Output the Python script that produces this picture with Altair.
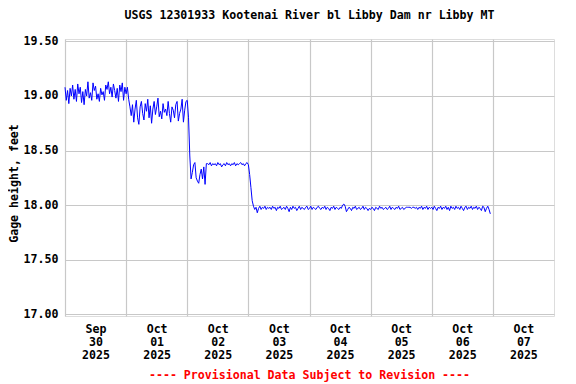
import altair as alt
import pandas as pd

TITLE = "USGS 12301933 Kootenai River bl Libby Dam nr Libby MT"
Y_TITLE = "Gage height, feet"
FOOTER = "---- Provisional Data Subject to Revision ----"

# gage height, 30-minute readings, each list starts at 00:00 UTC of its day
day_starts = ["2025-09-30", "2025-10-01", "2025-10-02", "2025-10-03",
              "2025-10-04", "2025-10-05", "2025-10-06"]

sep30 = [19.08, 18.96, 19.05, 18.93, 19.07, 19.00, 19.10, 18.97, 19.06, 18.95, 19.11, 19.02,
         19.08, 18.94, 19.04, 18.92, 19.06, 19.00, 19.13, 18.98, 19.03, 18.96, 19.12, 19.05,
         19.09, 18.97, 19.02, 18.95, 19.07, 19.01, 19.04, 18.96, 19.10, 19.06, 19.13, 19.02,
         19.08, 18.99, 19.11, 19.05, 18.98, 19.07, 18.95, 19.10, 19.04, 19.12, 18.96, 19.08]
oct01 = [19.02, 19.08, 18.97, 18.90, 18.82, 18.92, 18.76, 18.88, 18.96, 18.80, 18.74, 18.90,
         18.95, 18.84, 18.78, 18.93, 18.86, 18.97, 18.80, 18.91, 18.75, 18.88, 18.95, 18.83,
         18.90, 18.98, 18.81, 18.86, 18.79, 18.93, 18.85, 18.88, 18.82, 18.95, 18.84, 18.76,
         18.90, 18.87, 18.80, 18.92, 18.95, 18.77, 18.84, 18.88, 18.97, 18.76, 18.87, 18.95]
oct02 = [18.96, 18.80, 18.45, 18.24, 18.30, 18.37, 18.39, 18.25, 18.22, 18.20, 18.28, 18.33,
         18.24, 18.35, 18.19, 18.38, 18.38, 18.37, 18.39, 18.36, 18.38, 18.37, 18.38, 18.36,
         18.39, 18.37, 18.38, 18.35, 18.37, 18.38, 18.36, 18.39, 18.37, 18.38, 18.36, 18.38,
         18.37, 18.39, 18.36, 18.38, 18.37, 18.38, 18.39, 18.37, 18.38, 18.36, 18.38, 18.39]
oct03 = [18.37, 18.28, 18.16, 18.04, 17.99, 17.96, 17.98, 17.93, 17.97, 17.99, 17.96, 17.98,
         17.97, 17.99, 17.96, 17.98, 17.97, 17.98, 17.96, 17.99, 17.97, 17.98, 17.95, 17.98,
         17.97, 17.99, 17.96, 17.97, 17.98, 17.96, 17.99, 17.97, 17.94, 17.98, 17.96, 17.99,
         17.97, 17.98, 17.95, 17.97, 17.99, 17.96, 17.98, 17.97, 17.96, 17.98, 17.99, 17.96]
oct04 = [17.97, 17.99, 17.96, 17.98, 17.97, 17.96, 17.98, 17.99, 17.97, 17.96, 17.98, 17.97,
         17.99, 17.96, 17.98, 17.97, 17.95, 17.98, 17.97, 17.99, 17.96, 17.98, 17.97, 17.96,
         17.98, 17.97, 18.00, 18.01, 17.99, 17.94, 17.96, 17.98, 17.97, 17.95, 17.98, 17.97,
         17.99, 17.96, 17.97, 17.98, 17.96, 17.97, 17.99, 17.96, 17.98, 17.97, 17.95, 17.97]
oct05 = [17.96, 17.98, 17.97, 17.95, 17.98, 17.97, 17.96, 17.99, 17.97, 17.98, 17.96, 17.97,
         17.98, 17.96, 17.97, 17.99, 17.96, 17.98, 17.97, 17.96, 17.98, 17.97, 17.99, 17.96,
         17.97, 17.98, 17.96, 17.97, 17.98, 17.98, 17.98, 17.98, 17.97, 17.98, 17.98, 17.97,
         17.98, 17.96, 17.98, 17.97, 17.99, 17.96, 17.98, 17.97, 17.99, 17.96, 17.98, 17.97]
oct06 = [17.98, 17.96, 17.99, 17.97, 17.95, 17.98, 17.97, 17.99, 17.96, 17.98, 17.97, 17.99,
         17.96, 17.98, 17.95, 17.99, 17.97, 17.98, 17.96, 17.99, 17.97, 17.98, 17.96, 17.99,
         17.97, 17.95, 17.98, 17.99, 17.96, 17.98, 17.97, 17.99, 17.96, 17.98, 17.97, 17.99,
         17.96, 17.98, 17.97, 17.95, 17.99, 17.98, 17.94, 17.97, 17.99, 17.96, 17.92]

days = [sep30, oct01, oct02, oct03, oct04, oct05, oct06]
y_ticks = [17.0, 17.5, 18.0, 18.5, 19.0, 19.5]
x_tick_days = [(9, 30), (10, 1), (10, 2), (10, 3), (10, 4), (10, 5), (10, 6), (10, 7)]

rows = []
for start, vals in zip(day_starts, days):
    t0 = pd.Timestamp(start + "T00:00:00Z")
    for i, v in enumerate(vals):
        rows.append({"t": (t0 + pd.Timedelta(minutes=30 * i)).strftime("%Y-%m-%dT%H:%M:%SZ"), "v": v})
df = pd.DataFrame(rows)

FONT = "DejaVu Sans Mono"
FS = 11.6
W, H = 489, 277

x_enc = alt.X(
    "t:T",
    scale=alt.Scale(type="utc",
                    domain=[alt.DateTime(year=2025, month=9, date=30, utc=True),
                            alt.DateTime(year=2025, month=10, date=8, utc=True)]),
    axis=alt.Axis(
        values=[alt.DateTime(year=2025, month=m, date=d, utc=True) for m, d in x_tick_days],
        labelExpr="[utcFormat(datum.value, '%b'), utcFormat(datum.value, '%d'), utcFormat(datum.value, '%Y')]",
        labelOffset=30.5, labelFlush=False, labelOverlap=False, labelBaseline="top",
        labelLineHeight=13, labelPadding=7, ticks=False, domain=False,
        grid=True, gridColor="#c8c8c8", gridWidth=1.2, gridOpacity=1,
        labelFont=FONT, labelFontSize=FS, labelFontWeight="bold", labelColor="black",
    ),
    title=None,
)
y_enc = alt.Y(
    "v:Q",
    scale=alt.Scale(domain=[16.984, 19.522], nice=False, zero=False),
    axis=alt.Axis(
        values=y_ticks, format=".2f", ticks=False, domain=False, labelPadding=7,
        grid=True, gridColor="#c8c8c8", gridWidth=1.2, gridOpacity=1,
        labelFont=FONT, labelFontSize=FS, labelFontWeight="bold", labelColor="black",
        title=Y_TITLE, titleFont=FONT, titleFontSize=FS, titleFontWeight="bold",
        titleColor="black", titleX=-51, titleY=144, titleAngle=-90,
        titleAlign="center", titleBaseline="middle",
    ),
)

line = alt.Chart(df).mark_line(color="#0000ff", strokeWidth=1, interpolate="linear").encode(x=x_enc, y=y_enc)

footer = alt.Chart(pd.DataFrame({"txt": [FOOTER]})).mark_text(
    font=FONT, fontSize=FS, fontWeight="bold", color="#ff0000",
    align="center", baseline="alphabetic",
).encode(x=alt.value(W / 2), y=alt.value(H + 63), text="txt:N")

chart = alt.layer(line, footer).properties(
    width=W, height=H,
    title=alt.TitleParams(TITLE, font=FONT, fontSize=FS, fontWeight="bold",
                          color="black", anchor="middle", offset=14),
    autosize=alt.AutoSizeParams(type="none"),
    padding={"left": 57, "top": 31, "right": 14, "bottom": 66},
).configure_view(stroke="black", strokeWidth=1.5).configure(background="white")

chart.save("out.html", embed_options={"renderer": "svg", "actions": False})
